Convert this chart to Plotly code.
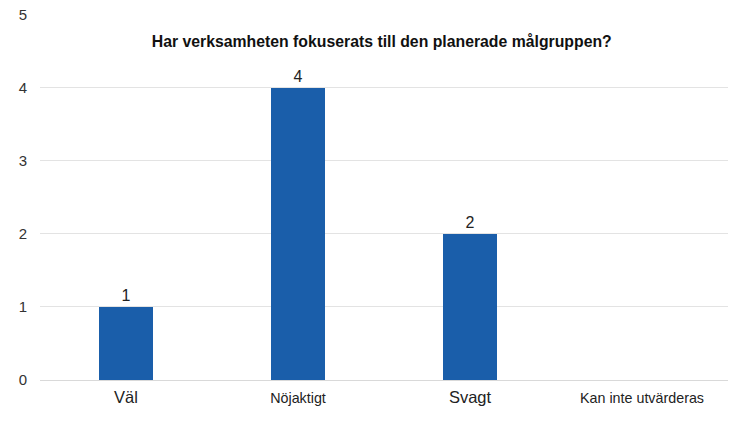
import plotly.graph_objects as go

categories = ["Väl", "Nöjaktigt", "Svagt", "Kan inte utvärderas"]
values = [1, 4, 2, 0]
value_labels = ["1", "4", "2", ""]
label_sizes = [16.5, 14.3, 16.5, 14.3]
title_text = "Har verksamheten fokuserats till den planerade målgruppen?"
y_ticks = [0, 1, 2, 3, 4, 5]

ticktext = [f"<span style='font-size:{s}px'>{c}</span>" for c, s in zip(categories, label_sizes)]

fig = go.Figure(
    go.Bar(
        x=categories,
        y=values,
        text=value_labels,
        textposition="outside",
        textfont=dict(size=16, color="#222222", family="Liberation Sans, Arial"),
        marker=dict(color="#1a5eaa", line=dict(width=0)),
        width=0.31,
        cliponaxis=False,
    )
)

fig.update_layout(
    width=750,
    height=436,
    margin=dict(l=40, r=22, t=14, b=56),
    paper_bgcolor="white",
    plot_bgcolor="white",
    font=dict(family="Liberation Sans, Arial", color="#222222"),
    showlegend=False,
    bargap=0,
    title=dict(
        text=f"<b>{title_text}</b>",
        x=0.509,
        xanchor="center",
        y=0.904,
        yanchor="middle",
        font=dict(size=15.8, color="#111111"),
    ),
    xaxis=dict(
        tickmode="array",
        tickvals=categories,
        ticktext=ticktext,
        showgrid=False,
        showline=False,
        ticks="",
        tickfont=dict(size=14, color="#222222"),
        range=[-0.5, 3.5],
        automargin=False,
        ticklabelstandoff=8,
    ),
    yaxis=dict(
        range=[0, 5.006],
        tickvals=y_ticks,
        showgrid=True,
        gridcolor="#e3e3e3",
        gridwidth=1,
        zeroline=True,
        zerolinecolor="#d9d9d9",
        zerolinewidth=1,
        showline=False,
        ticks="",
        tickfont=dict(size=15, color="#333333"),
        ticklabelstandoff=12,
        ticklabeloverflow="allow",
        automargin=False,
    ),
)

fig.write_html(
    "out.html",
    config={"displayModeBar": False},
    post_script="document.body.style.margin='0';document.body.style.overflow='hidden';",
)
